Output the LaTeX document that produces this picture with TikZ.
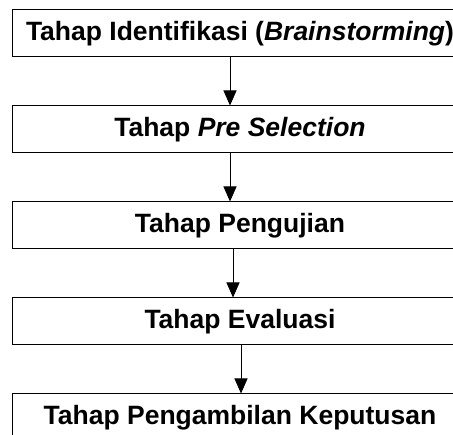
\documentclass[tikz,border=0pt]{standalone}
\usepackage{fontspec}
\setmainfont{Liberation Sans}
\usetikzlibrary{positioning, arrows.meta}

\begin{document}
\begin{tikzpicture}[
    x=1pt, y=1pt,
    node distance=48pt,
    tahap/.style={draw, line width=1pt, minimum width=456pt, minimum height=47pt,
                  inner sep=0pt, font=\fontsize{26.5}{30}\selectfont\bfseries},
    arr/.style={-{Triangle[length=15pt, width=13pt]}, line width=1pt},
  ]
    \useasboundingbox (0,0) rectangle (453,435);
    \clip (0,0) rectangle (453,435);

    \node[tahap] (ident) at (240,401.5) {Tahap Identifikasi (\textit{Brainstorming})};
    \node[tahap, below=of ident] (presel) {Tahap \textit{Pre Selection}};
    \node[tahap, below=of presel] (uji)   {Tahap Pengujian};
    \node[tahap, below=of uji]    (eval)  {Tahap Evaluasi};
    \node[tahap, below=of eval]   (putus) {Tahap Pengambilan Keputusan};

    \draw[arr] ([xshift=-10pt]ident.south)  -- ([xshift=-10pt]presel.north);
    \draw[arr] ([xshift=-10pt]presel.south) -- ([xshift=-10pt]uji.north);
    \draw[arr] ([xshift=-7pt]uji.south)     -- ([xshift=-7pt]eval.north);
    \draw[arr] ([xshift=1pt]eval.south)     -- ([xshift=1pt]putus.north);
\end{tikzpicture}
\end{document}
